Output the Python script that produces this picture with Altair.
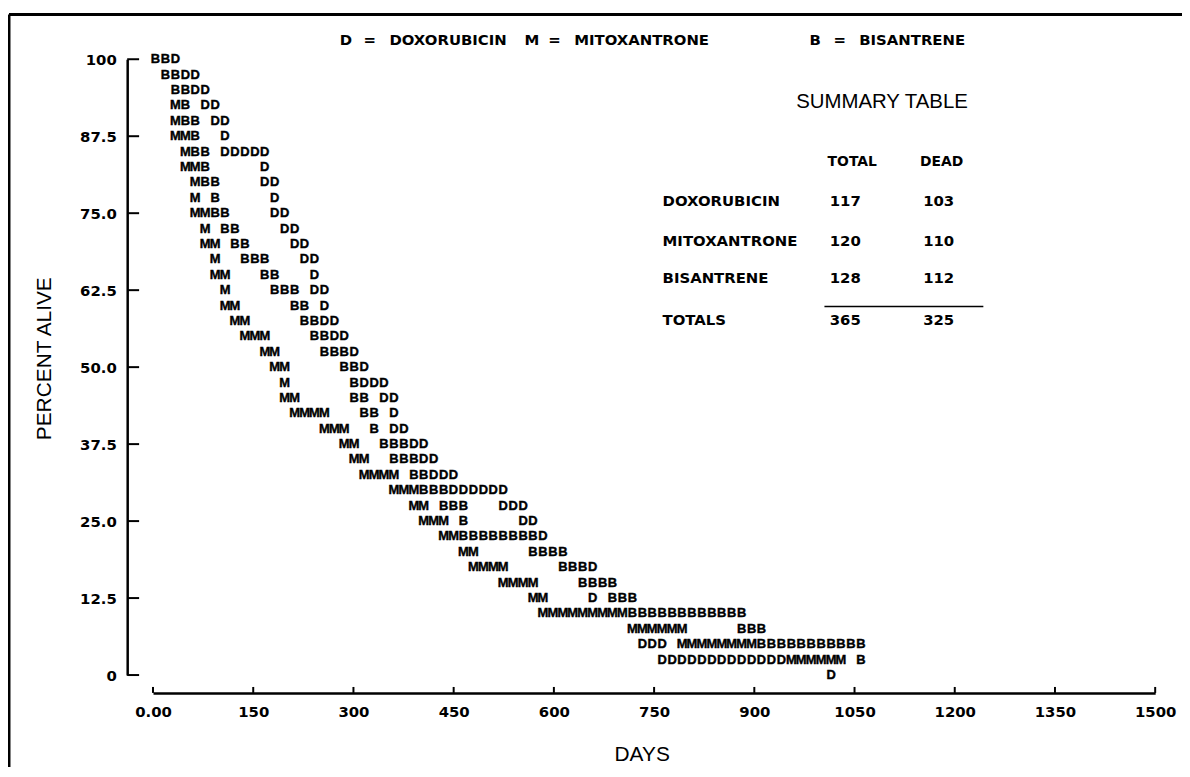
import altair as alt
import pandas as pd

# ---------------- data ----------------
# Each row of the character plot is one survival level (percent alive);
# each character sits in a ~15-day-wide column (column 0 = start of follow-up).
ROW_PERCENT = [100.0, 97.5, 95.0, 92.5, 90.0, 87.5, 85.0, 82.5, 80.0, 77.5,
               75.0, 72.5, 70.0, 67.5, 65.0, 62.5, 60.0, 57.5, 55.0, 52.5,
               50.0, 47.5, 45.0, 42.5, 40.0, 37.5, 35.0, 32.5, 30.0, 27.5,
               25.0, 22.5, 20.0, 17.5, 15.0, 12.5, 10.0, 7.5, 5.0, 2.5, 0.0]
ROW_START_COLUMN = [0, 1, 2, 2, 2, 2, 3, 3, 4, 4,
                    4, 5, 5, 6, 6, 7, 7, 8, 9, 11,
                    12, 13, 13, 14, 17, 19, 20, 21, 24, 26,
                    27, 29, 31, 32, 35, 38, 39, 48, 49, 51, 68]
ROW_TEXT = [
    "BBD", "BBDD", "BBDD", "MB DD", "MBB DD", "MMB  D", "MBB DDDDD",
    "MMB     D", "MBB    DD", "M B     D", "MMBB    DD", "M BB    DD",
    "MM BB    DD", "M  BBB   DD", "MM   BB   D", "M    BBB DD",
    "MM     BB D", "MM     BBDD", "MMM    BBDD", "MM    BBBD",
    "MM     BBD", "M      BDDD", "MM     BB DD", "MMMM   BB D",
    "MMM  B DD", "MM  BBBDD", "MM  BBBDD", "MMMM BBDDD", "MMMBBBDDDDDD",
    "MM BBB   DDD", "MMM B     DD", "MMBBBBBBBBD", "MM     BBBB",
    "MMMM     BBBD", "MMMM    BBBB", "MM    D BBB",
    "MMMMMMMMMBBBBBBBBBBBB", "MMMMMM     BBB",
    "DDD MMMMMMMMBBBBBBBBBBB", "DDDDDDDDDDDDDMMMMMM B", "D",
]
DAYS_PER_COLUMN = 14.87
FIRST_COLUMN_DAY = 3.7

X_TICKS = [0, 150, 300, 450, 600, 750, 900, 1050, 1200, 1350, 1500]
Y_TICKS = [0, 12.5, 25, 37.5, 50, 62.5, 75, 87.5, 100]

LEGEND_CODES = ["D", "M", "B"]
LEGEND_NAMES = ["DOXORUBICIN", "MITOXANTRONE", "BISANTRENE"]

TABLE_DRUGS = ["DOXORUBICIN", "MITOXANTRONE", "BISANTRENE"]
TABLE_TOTAL = [117, 120, 128]
TABLE_DEAD = [103, 110, 112]

# ---------------- layout ----------------
PLOT_LEFT, PLOT_TOP = 154, 57      # page pixel of day 0 / 100 %
W, H = 1009, 620
PAD = {"left": PLOT_LEFT - 8, "top": PLOT_TOP - 8, "right": 27, "bottom": 90}

records = []
for pct, start, text in zip(ROW_PERCENT, ROW_START_COLUMN, ROW_TEXT):
    for i, ch in enumerate(text):
        if ch != " ":
            col = start + i
            records.append({"day": FIRST_COLUMN_DAY + col * DAYS_PER_COLUMN,
                            "pct": pct, "ch": ch})
letters = pd.DataFrame(records)

xs = alt.Scale(domain=[0, 1500], nice=False, zero=False)
ys = alt.Scale(domain=[0, 100], nice=False, zero=False)

BOLD = "DejaVu Sans"

x_axis = alt.Axis(
    values=X_TICKS, offset=18, ticks=False, grid=False,
    domainColor="black", domainWidth=2.5,
    labelExpr="datum.value == 0 ? '0.00' : format(datum.value, 'd')",
    labelFont=BOLD, labelFontWeight="bold", labelFontSize=15,
    labelColor="black", labelPadding=12, labelFlush=False, labelOverlap=False,
    title="DAYS", titleFont="Liberation Sans", titleFontWeight="normal",
    titleFontSize=21, titleColor="black", titleX=646 - PLOT_LEFT, titleY=62,
    titleAlign="center", titleBaseline="middle", titleAngle=0,
)
y_axis = alt.Axis(
    values=Y_TICKS, offset=26, ticks=False, grid=False,
    domainColor="black", domainWidth=2.5,
    labelExpr="datum.value == 0 ? '0' : datum.value == 100 ? '100' : format(datum.value, '.1f')",
    labelFont=BOLD, labelFontWeight="bold", labelFontSize=15,
    labelColor="black", labelPadding=11, labelFlush=False, labelOverlap=False,
    title="PERCENT ALIVE", titleFont="Liberation Sans", titleFontWeight="normal",
    titleFontSize=21, titleColor="black", titleX=45 - 128, titleY=358 - PLOT_TOP,
    titleAlign="center", titleBaseline="middle", titleAngle=270,
)

points = alt.Chart(letters).mark_text(
    font="Liberation Sans", fontWeight="bold", fontSize=13, color="black",
    stroke="black", strokeWidth=0.4, align="center", baseline="middle",
).encode(
    x=alt.X("day:Q", scale=xs, axis=x_axis),
    y=alt.Y("pct:Q", scale=ys, axis=y_axis),
    text="ch:N",
)

xt = alt.Chart(pd.DataFrame({"day": X_TICKS})).mark_rule(color="black", strokeWidth=2).encode(
    x=alt.X("day:Q", scale=xs, axis=x_axis), y=alt.value(H + 18), y2=alt.value(H + 12))
yt = alt.Chart(pd.DataFrame({"pct": Y_TICKS})).mark_rule(color="black", strokeWidth=2).encode(
    y=alt.Y("pct:Q", scale=ys, axis=y_axis), x=alt.value(-26), x2=alt.value(-14))


def note(text, px, py, size=15, weight="bold", align="left", font=BOLD):
    return alt.Chart(pd.DataFrame({"t": [text]})).mark_text(
        align=align, baseline="middle", font=font, fontSize=size,
        fontWeight=weight, color="black",
    ).encode(x=alt.value(px - PLOT_LEFT), y=alt.value(py - PLOT_TOP), text="t:N")


def line(x1, y1, x2, y2, w):
    return alt.Chart(pd.DataFrame({"a": [0]})).mark_rule(color="black", strokeWidth=w).encode(
        x=alt.value(x1 - PLOT_LEFT), x2=alt.value(x2 - PLOT_LEFT),
        y=alt.value(y1 - PLOT_TOP), y2=alt.value(y2 - PLOT_TOP))


layers = [points, xt, yt]

# legend across the top
for code, name, lx in zip(LEGEND_CODES, LEGEND_NAMES, [342, 528, 815]):
    layers.append(note(code, lx, 38, 15))
    layers.append(note("=", lx + 24, 38, 15))
    layers.append(note(name, lx + 50, 38, 15))

# summary table
layers.append(note("SUMMARY TABLE", 888, 100, 20.5, "normal", "center", "Liberation Sans"))
layers.append(note("TOTAL", 858, 160, 14, align="center"))
layers.append(note("DEAD", 948, 160, 14, align="center"))
for drug, tot, dead, ry in zip(TABLE_DRUGS, TABLE_TOTAL, TABLE_DEAD, [200, 240, 277]):
    layers.append(note(drug, 667, ry, 15))
    layers.append(note(str(tot), 851, ry, 15, align="center"))
    layers.append(note(str(dead), 945, ry, 15, align="center"))
layers.append(line(830, 306, 990, 306, 1.5))
layers.append(note("TOTALS", 667, 320, 15))
layers.append(note(str(sum(TABLE_TOTAL)), 851, 320, 15, align="center"))
layers.append(note(str(sum(TABLE_DEAD)), 945, 320, 15, align="center"))

# page frame (left and top border of the original figure)
layers.append(line(9, 12, 9, 790, 3))
layers.append(line(9, 12, 1190, 12, 3))

chart = alt.layer(*layers).properties(
    width=W, height=H, padding=PAD,
    autosize=alt.AutoSizeParams(type="none"),
    background="white",
).configure_view(stroke=None)

chart.save("out.html", embed_options={"renderer": "svg", "actions": False})
